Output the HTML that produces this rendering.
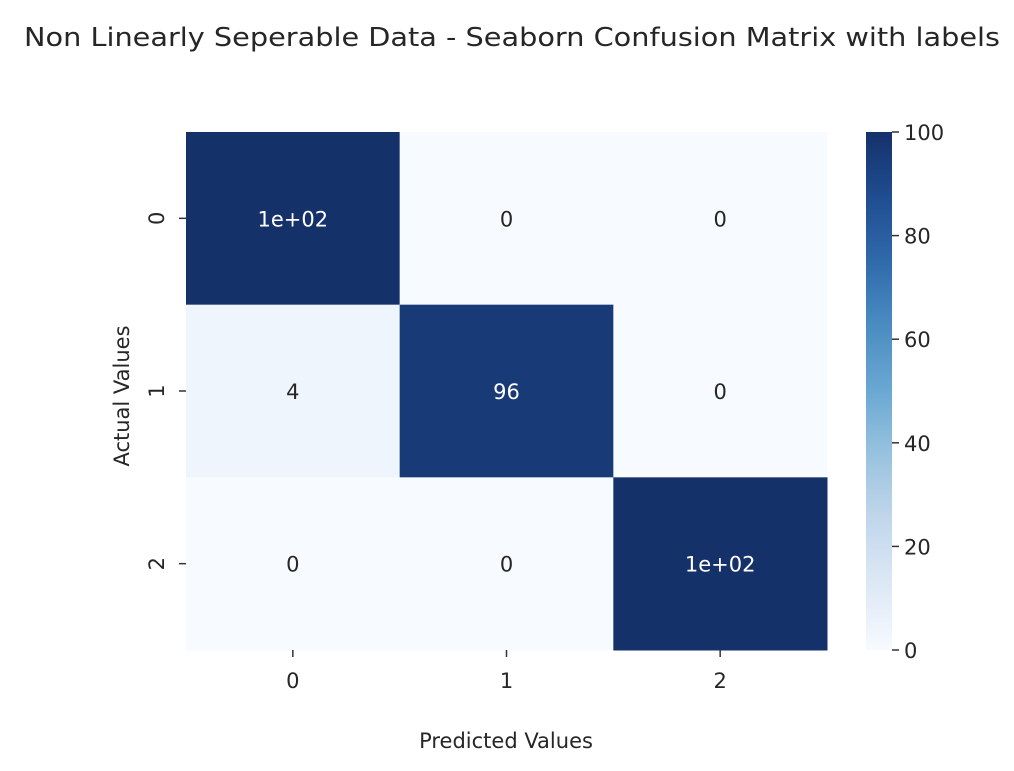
<!DOCTYPE html>
<html><head><meta charset="utf-8">
<style>
body{margin:0;background:#fff;font-family:"Liberation Sans","DejaVu Sans",sans-serif;}
svg text{font-family:"DejaVu Sans","Liberation Sans",sans-serif;fill:#262626;}
</style></head>
<body>
<svg id="chart" width="1014" height="766">
<defs>
<linearGradient id="cbgrad" x1="0" y1="1" x2="0" y2="0"></linearGradient>
</defs>
<text x="24" y="46" font-size="26" textLength="976" lengthAdjust="spacingAndGlyphs">Non Linearly Seperable Data - Seaborn Confusion Matrix with labels</text>
<g id="cells"></g>
<g id="axes"></g>
<text x="506" y="748" text-anchor="middle" font-size="21">Predicted Values</text>
<text transform="translate(129,396) rotate(-90)" text-anchor="middle" font-size="21">Actual Values</text>
</svg>
<script>
const categories = ["0","1","2"];
const row0 = [100, 0, 0];
const row1 = [4, 96, 0];
const row2 = [0, 0, 100];
const annot0 = ["1e+02","0","0"];
const annot1 = ["4","96","0"];
const annot2 = ["0","0","1e+02"];
const cbTicks = [0,20,40,60,80,100];
const matrix=[row0,row1,row2], annots=[annot0,annot1,annot2];
const L=186,R=827,T=132,B=650, vmin=0,vmax=100;
const cw=(R-L)/3, ch=(B-T)/3;
const stops=["#f7fbff","#dde8f5","#c2d7ec","#9ac3de","#6aa8d3","#4b8dc2","#2f6aab","#1f4d91","#15316a"];
function hex(h){return [1,3,5].map(i=>parseInt(h.substr(i,2),16));}
function color(v){let t=Math.max(0,Math.min(1,(v-vmin)/(vmax-vmin)))*(stops.length-1);let i=Math.min(Math.floor(t),stops.length-2),f=t-i;const a=hex(stops[i]),b=hex(stops[i+1]);return `rgb(${a.map((x,k)=>Math.round(x+(b[k]-x)*f)).join(",")})`;}
const NS="http://www.w3.org/2000/svg";
function mk(tag,attrs,parent){const e=document.createElementNS(NS,tag);for(const k in attrs)e.setAttribute(k,attrs[k]);parent.appendChild(e);return e;}
const cells=document.getElementById('cells'), axes=document.getElementById('axes');
const xs=i=>L+i*cw, ys=i=>T+i*ch, cy=v=>B-(v-vmin)/(vmax-vmin)*(B-T);
matrix.forEach((row,r)=>row.forEach((v,c)=>{
  const rc=mk('rect',{x:xs(c),y:ys(r),width:cw+0.5,height:ch+0.5,fill:color(v)},cells);
  
  
  const t=mk('text',{x:xs(c)+cw/2,y:ys(r)+ch/2+8,'text-anchor':'middle','font-size':'21'},cells);
  
  
  t.textContent=annots[r][c];
  t.style.fill=v>50?'#ffffff':'#262626';
}));
categories.forEach((c,i)=>{
  const x=xs(i)+cw/2;
  mk('line',{x1:x,y1:B,x2:x,y2:B+7,stroke:'#333','stroke-width':1.5},axes);
  const t=mk('text',{x:x,y:B+38,'text-anchor':'middle','font-size':'21'},axes);
  
  
  t.textContent=c;
  const y=ys(i)+ch/2;
  mk('line',{x1:L-7,y1:y,x2:L,y2:y,stroke:'#333','stroke-width':1.5},axes);
  const ty=mk('text',{transform:`translate(${L-22},${y}) rotate(-90)`,'text-anchor':'middle','font-size':'21'},axes);
  
  
  ty.textContent=c;
});
const g=document.getElementById('cbgrad');
for(let i=0;i<=20;i++){mk('stop',{offset:(i/20),'stop-color':color(vmin+(vmax-vmin)*i/20)},g);}
const cb=mk('rect',{x:866,y:T,width:26,height:B-T,fill:'url(#cbgrad)'},axes);


cbTicks.forEach(v=>{
  const y=cy(v);
  mk('line',{x1:892,y1:y,x2:899,y2:y,stroke:'#333','stroke-width':1.5},axes);
  const t=mk('text',{x:904,y:y+8,'font-size':'21'},axes);
  
  
  t.textContent=v;
});
</script>
</body></html>
